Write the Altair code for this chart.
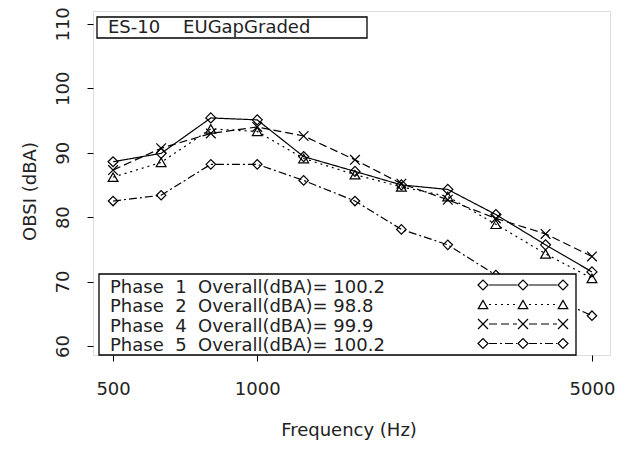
import altair as alt
import pandas as pd

# ---- data ----
freqs = [500, 630, 800, 1000, 1250, 1600, 2000, 2500, 3150, 4000, 5000]
phase_names = ["Phase 1", "Phase 2", "Phase 4", "Phase 5"]
phase1 = [88.6, 89.9, 95.4, 95.1, 89.4, 87.1, 85.0, 84.3, 80.4, 75.7, 71.5]
phase2 = [86.2, 88.5, 93.7, 93.3, 89.1, 86.6, 84.7, 83.2, 78.9, 74.3, 70.5]
phase4 = [87.3, 90.7, 93.0, 94.0, 92.6, 88.9, 85.2, 82.7, 79.8, 77.4, 73.9]
phase5 = [82.5, 83.4, 88.2, 88.2, 85.7, 82.5, 78.1, 75.7, 71.0, 68.0, 64.7]
overall = ["100.2", "98.8", "99.9", "100.2"]
phase_nums = ["1", "2", "4", "5"]
title_text = "ES-10\u00a0\u00a0\u00a0\u00a0EUGapGraded"
x_ticks = [500, 1000, 5000]
y_ticks = [60, 70, 80, 90, 100, 110]

series = [phase1, phase2, phase4, phase5]
rows = []
for name, vals in zip(phase_names, series):
    for f, v in zip(freqs, vals):
        rows.append({"freq": f, "obsi": v, "phase": name})
df = pd.DataFrame(rows)

# ---- styles ----
FONT = "DejaVu Sans"
FS = 18
TXT = "#222222"
W, H = 517, 344
dashes = [[1, 0], [2, 4], [8, 4], [8, 3, 2, 3]]
X_PATH = "M-1,-1L1,1M-1,1L1,-1"
shapes = ["diamond", "triangle-up", X_PATH, "diamond"]
sizes = [100, 90, 100, 100]

xscale = alt.Scale(type="log", domain=[454, 5453], nice=False)
yscale = alt.Scale(domain=[58.6, 112], nice=False, zero=False)

x_enc = alt.X(
    "freq:Q", scale=xscale,
    axis=alt.Axis(values=x_ticks, format="d", title="Frequency (Hz)",
                  grid=False, domain=False, tickSize=6, tickColor="black",
                  labelFont=FONT, labelFontSize=FS, labelColor=TXT, labelPadding=19,
                  titleFont=FONT, titleFontSize=FS, titleColor=TXT, titleFontWeight="normal",
                  titleBaseline="alphabetic", titleY=80, titleX=W / 2 - 3),
)
y_enc = alt.Y(
    "obsi:Q", scale=yscale,
    axis=alt.Axis(values=y_ticks, title="OBSI (dBA)",
                  grid=False, domain=False, tickSize=6, tickColor="black",
                  labelFont=FONT, labelFontSize=FS, labelColor=TXT,
                  labelAngle=270, labelAlign="center", labelBaseline="bottom", labelPadding=15,
                  titleFont=FONT, titleFontSize=FS, titleColor=TXT, titleFontWeight="normal",
                  titleAngle=270, titleAlign="center", titleBaseline="middle",
                  titleX=-63, titleY=180),
)

lines = alt.Chart(df).mark_line(color="black", strokeWidth=1.2).encode(
    x=x_enc, y=y_enc,
    detail="phase:N",
    strokeDash=alt.StrokeDash("phase:N", scale=alt.Scale(domain=phase_names, range=dashes), legend=None),
)
points = alt.Chart(df).mark_point(filled=False, color="black", strokeWidth=1.2, opacity=1).encode(
    x=alt.X("freq:Q", scale=xscale),
    y=alt.Y("obsi:Q", scale=yscale),
    shape=alt.Shape("phase:N", scale=alt.Scale(domain=phase_names, range=shapes), legend=None),
    size=alt.Size("phase:N", scale=alt.Scale(domain=phase_names, range=sizes), legend=None),
)

one = pd.DataFrame({"a": [0]})

# title box
title_box = alt.Chart(one).mark_rect(fill="white", stroke="black", strokeWidth=1.3).encode(
    x=alt.value(4), x2=alt.value(274), y=alt.value(6), y2=alt.value(27))
title_txt = alt.Chart(one).mark_text(
    align="left", baseline="middle", font=FONT, fontSize=FS, color=TXT, text=title_text
).encode(x=alt.value(15), y=alt.value(17))

# legend box
leg_box = alt.Chart(one).mark_rect(fill="white", stroke="black", strokeWidth=1.3).encode(
    x=alt.value(6), x2=alt.value(483), y=alt.value(263), y2=alt.value(H))
layers = [lines, points, title_box, title_txt, leg_box]

sym_x = [390, 430, 470]
for i, name in enumerate(phase_names):
    yy = 274 + i * 19.5
    label = f"Phase\u00a0\u00a0{phase_nums[i]}\u00a0\u00a0Overall(dBA)=\u00a0{overall[i]}"
    layers.append(alt.Chart(one).mark_text(
        align="left", baseline="middle", font=FONT, fontSize=FS, color=TXT, text=label
    ).encode(x=alt.value(17), y=alt.value(yy + 2.5)))
    for a, b in [(sym_x[0] + 6, sym_x[1] - 6), (sym_x[1] + 6, sym_x[2] - 6)]:
        layers.append(alt.Chart(one).mark_rule(
            color="black", strokeWidth=1.2, strokeDash=dashes[i]
        ).encode(x=alt.value(a), x2=alt.value(b), y=alt.value(yy)))
    for sx in sym_x:
        layers.append(alt.Chart(one).mark_point(
            filled=False, color="black", strokeWidth=1.2, opacity=1,
            shape=shapes[i], size=sizes[i]
        ).encode(x=alt.value(sx), y=alt.value(yy)))

chart = alt.layer(*layers).properties(
    width=W, height=H,
    autosize=alt.AutoSizeParams(type="none"),
    padding={"left": 85, "top": 3, "right": 8, "bottom": 90},
).configure_view(stroke="black", strokeWidth=1.3).configure(background="white")

chart.save("out.html", embed_options={"renderer": "svg", "actions": False})
